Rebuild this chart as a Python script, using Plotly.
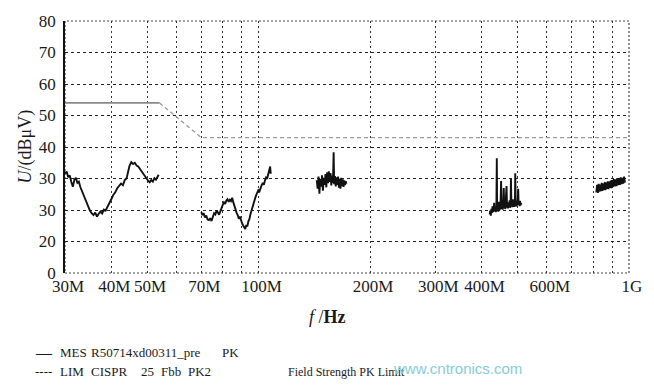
import plotly.graph_objects as go

# ---------------- data ----------------
# Measured spectrum (MES ... PK), frequency in MHz, level in dB(uV)
mes1_f = [30.0, 30.3, 30.6, 30.9, 31.2, 31.5, 31.8, 32.1, 32.4, 32.7, 33.0, 33.4, 33.8, 34.2, 34.6,
          35.0, 35.4, 35.8, 36.2, 36.6, 37.0, 37.4, 37.8, 38.2, 38.6, 39.0, 39.5, 40.0, 40.5, 41.0,
          41.5, 42.0, 42.5, 43.0, 43.5, 44.0, 44.4, 44.8, 45.3, 45.8, 46.3, 46.8, 47.3, 47.8, 48.3,
          48.8, 49.3, 49.8, 50.3, 50.8, 51.3, 51.8, 52.3, 52.8, 53.3, 53.7]
mes1_v = [31.5, 32.2, 30.4, 31.0, 28.9, 27.4, 29.6, 30.2, 28.6, 29.0, 27.3, 25.8, 24.2, 22.3, 20.8,
          19.9, 19.0, 18.4, 19.2, 17.9, 18.8, 19.5, 18.9, 20.1, 19.8, 21.0, 22.5, 23.4, 24.8, 25.6,
          26.9, 27.6, 28.4, 27.9, 29.5, 30.1, 32.6, 34.0, 35.2, 34.6, 35.0, 34.1, 33.8, 33.0, 32.4,
          31.3, 30.6, 29.8, 29.3, 28.8, 29.5, 29.0, 30.1, 29.6, 30.8, 31.2]

mes2_f = [70.0, 70.5, 71.0, 71.6, 72.2, 72.8, 73.4, 74.0, 74.6, 75.2, 75.8, 76.4, 77.0, 77.6, 78.2,
          78.8, 79.4, 80.0, 80.6, 81.2, 81.8, 82.4, 83.0, 83.6, 84.2, 84.8, 85.4, 86.0, 86.6, 87.2,
          87.8, 88.4, 89.0, 89.6, 90.2, 90.8, 91.4, 92.0, 92.6, 93.2, 93.8, 94.4, 95.0, 95.6, 96.2,
          96.8, 97.4, 98.0, 98.6, 99.2, 99.8, 100.5, 101.2, 101.9, 102.6, 103.3, 104.0, 104.7,
          105.4, 106.1, 106.8, 107.4, 107.8]
mes2_v = [19.3, 18.4, 19.0, 17.6, 18.2, 17.0, 16.8, 17.4, 16.5, 17.9, 19.0, 18.6, 19.8, 19.2, 18.5,
          19.6, 20.8, 21.6, 22.4, 21.9, 23.0, 23.4, 22.6, 23.2, 22.8, 23.9, 22.5, 21.2, 20.3, 19.1,
          18.4, 17.2, 17.9, 16.6, 15.8, 15.1, 14.6, 14.0, 15.2, 14.8, 16.4, 17.1, 18.6, 19.9, 21.0,
          22.3, 23.1, 24.0, 24.9, 25.5, 26.3, 25.9, 27.2, 27.9, 28.6, 28.0, 29.4, 30.3,
          29.9, 31.2, 32.4, 33.8, 31.5]

mes3_f = [143.5, 144.3, 145.1, 145.9, 146.7, 147.5, 148.3, 149.1, 149.9, 150.7, 151.5, 152.3, 153.1,
          153.9, 154.7, 155.5, 156.3, 157.1, 157.9, 158.7, 159.4, 159.9, 160.7, 161.5, 162.3, 163.1,
          163.9, 164.7, 165.5, 166.3, 167.1, 167.9, 168.7, 169.5, 170.3, 171.1, 171.9, 172.6]
mes3_v = [29.5, 26.8, 30.6, 25.2, 29.8, 27.4, 31.0, 26.1, 30.2, 28.0, 31.4, 27.2, 32.0,
          28.5, 32.3, 28.9, 31.7, 27.8, 30.9, 28.6, 38.3, 28.2, 30.8, 27.5, 30.4, 28.0,
          30.6, 27.1, 29.9, 26.8, 30.2, 27.6, 29.7, 27.3, 29.4, 27.9, 29.1, 28.3]

mes4_f = [420.5, 422.0, 423.5, 425.0, 426.5, 428.0, 429.5, 431.0, 432.5, 434.0, 435.5, 437.0, 438.5,
          439.6, 440.5, 442.0, 443.5, 445.0, 446.5, 448.0, 449.5, 451.5, 452.8, 454.5, 456.0, 457.5,
          459.0, 460.5, 462.0, 463.5, 465.0, 467.0, 468.5, 470.0, 471.5, 473.0, 474.5, 476.0, 477.5,
          479.0, 480.0, 481.5, 483.0, 484.5, 486.0, 487.5, 489.0, 490.5, 492.0, 493.0, 494.5, 496.0,
          497.5, 499.0, 500.5, 502.0, 503.5, 505.0, 506.5, 508.0, 509.5, 511.0, 512.0]
mes4_v = [18.6, 19.8, 18.2, 20.4, 19.1, 21.2, 19.4, 20.0, 22.3, 19.6, 20.5, 19.3, 21.0,
          36.4, 19.8, 20.9, 19.5, 22.6, 19.9, 21.1, 20.2, 29.2, 20.4, 21.6, 20.1, 22.0,
          27.0, 20.6, 21.5, 20.3, 22.8, 27.6, 20.8, 21.7, 20.5, 22.4, 21.0, 23.1, 20.7,
          21.8, 29.8, 21.2, 22.0, 20.9, 23.4, 21.3, 22.2, 21.0, 22.6, 31.7, 21.4, 22.5,
          21.1, 23.0, 21.6, 26.7, 21.8, 22.4, 21.2, 22.9, 21.5, 22.2, 21.7]

mes5_f = [816, 820, 824, 828, 832, 836, 840, 844, 848, 852, 856, 860, 864, 868, 872, 876, 880, 884,
          888, 892, 896, 900, 905, 910, 915, 920, 925, 930, 935, 940, 945, 950, 955, 960, 965, 970, 975]
mes5_v = [25.6, 28.0, 25.4, 28.3, 25.8, 28.1, 26.0, 28.6, 26.1, 28.4, 26.4, 28.9, 26.3, 28.7, 26.7,
          29.1, 26.6, 29.0, 27.0, 29.3, 26.9, 29.5, 27.3, 29.8, 27.5, 29.7, 27.6, 30.1, 27.9, 29.9,
          28.0, 30.4, 28.2, 30.2, 28.4, 30.6, 28.7]

# Limit line (LIM CISPR 25 Fbb PK2), MHz / dB(uV)
lim_f = [30, 54, 70, 1000]
lim_v = [54, 54, 43, 43]

# Axis ticks
y_ticks = [0, 10, 20, 30, 40, 50, 60, 70, 80]
y_labels = ["0", "20", "30", "30", "40", "50", "60", "70", "80"]
x_grid_mhz = [30, 40, 50, 60, 70, 80, 90, 100, 200, 300, 400, 500, 600, 700, 800, 900, 1000]
x_label_mhz = {30: "30M", 40: "40M", 50: "50M", 70: "70M", 100: "100M",
               200: "200M", 300: "300M", 400: "400M", 600: "600M", 1000: "1G"}

# ---------------- build ----------------
segments = [(mes1_f, mes1_v), (mes2_f, mes2_v), (mes3_f, mes3_v), (mes4_f, mes4_v), (mes5_f, mes5_v)]
mx, my = [], []
for f, v in segments:
    mx += [x * 1e6 for x in f] + [None]
    my += list(v) + [None]

fig = go.Figure()
fig.add_trace(go.Scatter(x=[f * 1e6 for f in lim_f[:2]], y=lim_v[:2], mode="lines",
                         line=dict(color="#8a8a8a", width=1.8), showlegend=False, hoverinfo="skip"))
fig.add_trace(go.Scatter(x=[f * 1e6 for f in lim_f[1:]], y=lim_v[1:], mode="lines",
                         line=dict(color="#9a9a9a", width=1.3, dash="4px,3px"), showlegend=False,
                         hoverinfo="skip"))
fig.add_trace(go.Scatter(x=mx, y=my, mode="lines", line=dict(color="#111", width=1.9),
                         showlegend=False, connectgaps=False))

tick_font = dict(family="Liberation Serif", size=17, color="#1a1a1a")
fig.update_layout(
    width=654, height=385,
    margin=dict(l=65, r=18, t=18, b=112),
    paper_bgcolor="white", plot_bgcolor="white",
    xaxis=dict(type="log", range=[7.4771, 9.0], tickmode="array",
               tickvals=[m * 1e6 for m in x_grid_mhz],
               ticktext=[x_label_mhz.get(m, "") for m in x_grid_mhz],
               showgrid=True, gridcolor="#333", griddash="2px,3px", gridwidth=1.3,
               showline=False, zeroline=False, ticks="", tickfont=tick_font,
               ticklabelstandoff=1, ticklabelshift=3),
    yaxis=dict(range=[0, 80], tickmode="array", tickvals=y_ticks, ticktext=y_labels,
               showgrid=True, gridcolor="#222", griddash="3px,3px", gridwidth=1.4,
               showline=True, linecolor="#111", linewidth=1.6, zeroline=False, ticks="",
               tickfont=tick_font, ticklabelstandoff=4),
    shapes=[dict(type="rect", xref="paper", yref="paper", x0=0, x1=1, y0=0, y1=1,
                 line=dict(color="#444", width=1.2, dash="2px,2px"), layer="below")],
)

px_w, px_h = 571.0, 255.0
def px(xp):
    return (xp - 65) / px_w
def py(yp):
    return (273 - yp) / px_h

ann = []
ann.append(dict(text="<i>U</i>/(dBμV)", x=px(24), y=0.5, textangle=-90,
                font=dict(family="Liberation Serif", size=18, color="#1a1a1a")))
ann.append(dict(text="<i>f</i> /<b>Hz</b>", x=px(331), y=py(318),
                font=dict(family="Liberation Serif", size=18, color="#1a1a1a")))
lf = dict(family="Liberation Serif", size=13, color="#1a1a1a")
row1 = [(33, "—"), (58, "MES"), (89, "R50714xd00311_pre"), (222, "PK")]
row2 = [(33, "----"), (58, "LIM"), (89, "CISPR"), (140, "25"), (160, "Fbb"), (187, "PK2"),
        (289, "Field Strength PK Limit")]
for xpos, t in row1:
    ann.append(dict(text=t, x=px(xpos), y=py(353), xanchor="left",
                    font=dict(lf, size=16) if t == "—" else lf))
for xpos, t in row2:
    f = dict(lf, size=12) if t.startswith("Field") else lf
    ann.append(dict(text=t, x=px(xpos), y=py(373), xanchor="left", font=f))
ann.append(dict(text="www.cntronics.com", x=px(395), y=py(370), xanchor="left",
                font=dict(family="Liberation Sans", size=15, color="#86cdd6")))
for a in ann:
    a.update(xref="paper", yref="paper", showarrow=False)
    a.setdefault("xanchor", "center")
    a.setdefault("yanchor", "middle")
fig.update_layout(annotations=ann)

# remove the page's default 8px body margin so the 654x385 figure fills the window
fig.write_html("out.html", config={"displayModeBar": False},
               post_script="document.body.style.margin='0';")
